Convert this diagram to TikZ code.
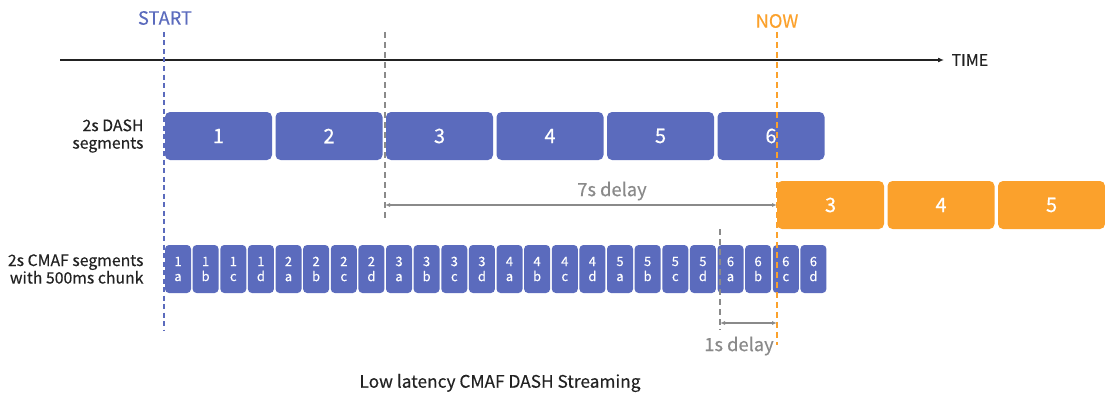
\documentclass[tikz,border=0pt]{standalone}
\usepackage{fontspec}
\setmainfont{Noto Sans CJK SC}[FakeBold=0.35]
\usetikzlibrary{arrows.meta}
\definecolor{segblue}{HTML}{5B6BBD}
\definecolor{nowor}{HTML}{FBA12C}
\definecolor{dgray}{HTML}{8A8A8A}
\definecolor{tdark}{HTML}{222222}
\tikzset{
  seg/.style={rectangle, rounded corners=5pt, fill=segblue, minimum width=107pt,
    minimum height=48pt, inner sep=0pt, text=white, font=\fontsize{20}{24}\selectfont},
  oseg/.style={seg, fill=nowor},
  chunk/.style={rectangle, rounded corners=4pt, fill=segblue, minimum width=26pt,
    minimum height=48pt, inner sep=0pt, text=white, align=center,
    font=\fontsize{13}{15}\selectfont},
  rowlab/.style={align=right, anchor=east, text=tdark, font=\fontsize{15.8}{17.5}\selectfont},
  delaylab/.style={text=dgray, font=\fontsize{18.3}{21}\selectfont},
}
\begin{document}
\begin{tikzpicture}[x=1pt, y=-1pt]
\useasboundingbox (0,0) rectangle (1105,396);
% time axis
\coordinate (t0) at (60,60);
\coordinate (t1) at (944,60);
\draw[line width=1.4pt, tdark, -{Latex[length=6pt,width=5pt]}] (t0) -- (t1);
\node[anchor=west, text=tdark, font=\fontsize{16}{19}\selectfont] (time) at (948,60) {TIME};
% row labels
\node[rowlab] (dashlab) at (147,136) {2s DASH\\segments};
\node[rowlab] (cmaflab) at (147,269) {2s CMAF segments\\with 500ms chunk};
% DASH segments
\node[seg] (s1) at (218.5,136) {1};
\node[seg] (s2) at (329,136) {2};
\node[seg] (s3) at (439.5,136) {3};
\node[seg] (s4) at (550,136) {4};
\node[seg] (s5) at (660.5,136) {5};
\node[seg] (s6) at (771,136) {6};
% late segments
\node[oseg] (o3) at (830.5,205) {3};
\node[oseg] (o4) at (941,205) {4};
\node[oseg] (o5) at (1051.5,205) {5};
% CMAF chunks
\node[chunk] (c1a) at (178,269) {1\\a};
\node[chunk] (c1b) at (205.6,269) {1\\b};
\node[chunk] (c1c) at (233.3,269) {1\\c};
\node[chunk] (c1d) at (260.9,269) {1\\d};
\node[chunk] (c2a) at (288.5,269) {2\\a};
\node[chunk] (c2b) at (316.1,269) {2\\b};
\node[chunk] (c2c) at (343.8,269) {2\\c};
\node[chunk] (c2d) at (371.4,269) {2\\d};
\node[chunk] (c3a) at (399,269) {3\\a};
\node[chunk] (c3b) at (426.6,269) {3\\b};
\node[chunk] (c3c) at (454.3,269) {3\\c};
\node[chunk] (c3d) at (481.9,269) {3\\d};
\node[chunk] (c4a) at (509.5,269) {4\\a};
\node[chunk] (c4b) at (537.1,269) {4\\b};
\node[chunk] (c4c) at (564.8,269) {4\\c};
\node[chunk] (c4d) at (592.4,269) {4\\d};
\node[chunk] (c5a) at (620,269) {5\\a};
\node[chunk] (c5b) at (647.6,269) {5\\b};
\node[chunk] (c5c) at (675.3,269) {5\\c};
\node[chunk] (c5d) at (702.9,269) {5\\d};
\node[chunk] (c6a) at (730.5,269) {6\\a};
\node[chunk] (c6b) at (758.1,269) {6\\b};
\node[chunk] (c6c) at (785.8,269) {6\\c};
\node[chunk] (c6d) at (813.4,269) {6\\d};
% markers
\node[text=segblue, font=\fontsize{18.3}{21}\selectfont] (start) at (165,18) {START};
\node[text=nowor, font=\fontsize{18.3}{21}\selectfont] (now) at (777,21) {NOW};
\coordinate (sb0) at (164,32);
\coordinate (sb1) at (164,330);
\coordinate (g0) at (385,32);
\coordinate (g1) at (385,218);
\coordinate (n0) at (777,32);
\coordinate (n1) at (777,345);
\coordinate (h0) at (720,229);
\coordinate (h1) at (720,330);
\draw[segblue, line width=1.5pt, dash pattern=on 5pt off 3.5pt] (sb0) -- (sb1);
\draw[dgray, line width=1.5pt, dash pattern=on 6pt off 4pt] (g0) -- (g1);
\draw[dgray, line width=1.5pt, dash pattern=on 6pt off 4pt] (h0) -- (h1);
\draw[nowor, line width=2pt, dash pattern=on 6pt off 4pt] (n0) -- (n1);
% delays
\coordinate (d7a) at (385,205);
\coordinate (d7b) at (777,205);
\coordinate (d1a) at (720,323);
\coordinate (d1b) at (777,323);
\draw[dgray, line width=1.3pt, {Latex[length=5pt,width=4pt]}-{Latex[length=5pt,width=4pt]}] (d7a) -- (d7b);
\draw[dgray, line width=1.3pt, {Latex[length=5pt,width=4pt]}-{Latex[length=5pt,width=4pt]}] (d1a) -- (d1b);
\node[delaylab] (l7) at (612,191) {7s delay};
\node[delaylab] (l1) at (739,346) {1s delay};
% caption
\node[text=tdark, font=\fontsize{17.3}{20}\selectfont] (cap) at (500,383) {Low latency CMAF DASH Streaming};
\end{tikzpicture}
\end{document}
